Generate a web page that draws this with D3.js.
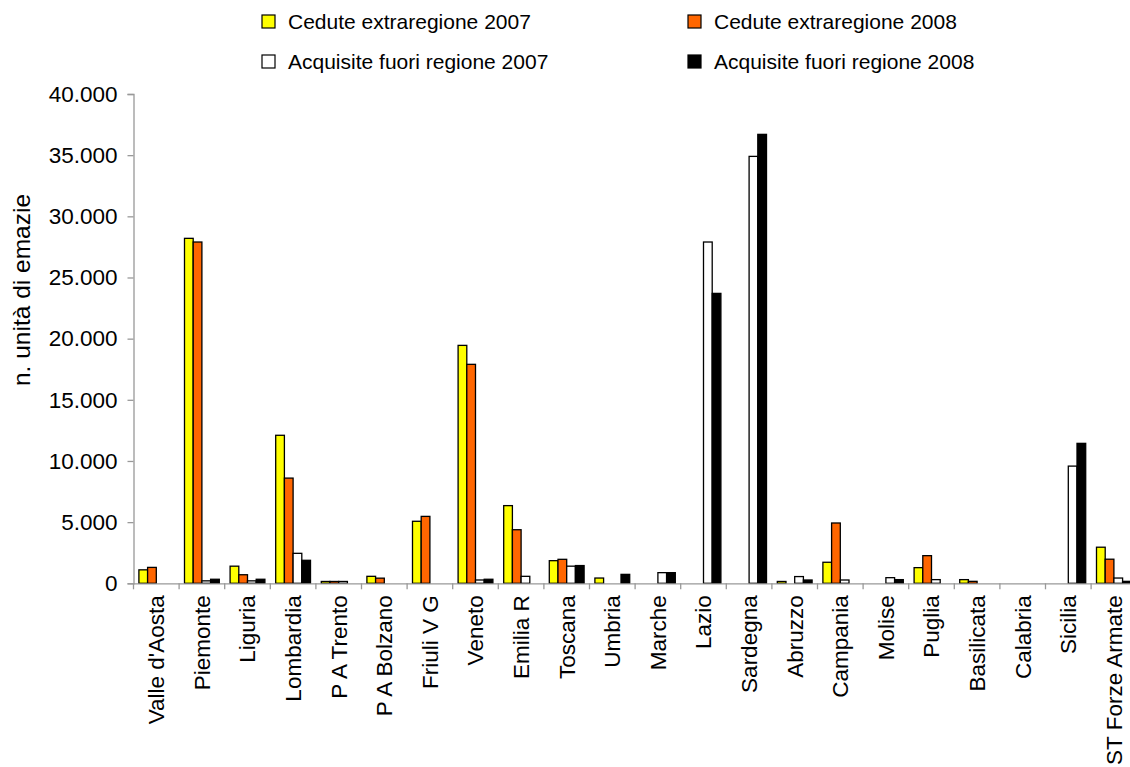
<!DOCTYPE html>
<html>
<head>
<meta charset="utf-8">
<script src="https://cdn.jsdelivr.net/npm/d3@7/dist/d3.min.js"></script>
<style>
  html, body { margin: 0; padding: 0; background: #fff; }
  svg { display: block; font-family: "Liberation Sans", Arial, sans-serif; }
</style>
</head>
<body>
<svg id="chart" width="1130" height="767"></svg>
<script>
const categories = ["Valle d'Aosta","Piemonte","Liguria","Lombardia","P A Trento","P A Bolzano","Friuli V G","Veneto","Emilia R","Toscana","Umbria","Marche","Lazio","Sardegna","Abruzzo","Campania","Molise","Puglia","Basilicata","Calabria","Sicilia","ST Forze Armate"];
const seriesNames = ["Cedute extraregione 2007","Cedute extraregione 2008","Acquisite fuori regione 2007","Acquisite fuori regione 2008"];
const cedute2007    = [1100, 28200, 1400, 12100, 150, 570, 5070, 19450, 6350, 1850, 430, 0, 0, 0, 150, 1720, 0, 1280, 300, 0, 0, 2950];
const cedute2008    = [1300, 27900, 700, 8600, 150, 420, 5470, 17900, 4380, 1960, 0, 0, 0, 0, 0, 4930, 0, 2260, 160, 0, 0, 1970];
const acquisite2007 = [0, 200, 200, 2450, 150, 0, 0, 270, 570, 1400, 0, 870, 27900, 34900, 550, 270, 460, 300, 0, 0, 9580, 430];
const acquisite2008 = [0, 330, 330, 1880, 0, 0, 0, 330, 0, 1450, 730, 870, 23700, 36700, 270, 0, 300, 0, 0, 0, 11440, 160];
const yTicks = [0, 5000, 10000, 15000, 20000, 25000, 30000, 35000, 40000];
const yTickLabels = ["0","5.000","10.000","15.000","20.000","25.000","30.000","35.000","40.000"];
const colors = ["#FFFF00", "#FF6600", "#FFFFFF", "#000000"];

const seriesValues = [cedute2007, cedute2008, acquisite2007, acquisite2008];

(function () {
const svg = d3.select("#chart");
const mLeft = 133.5, mTop = 94, mBottom = 583.3;
const step = 45.6;
const mRight = mLeft + step * categories.length;
const FONT = "Liberation Sans, Arial, sans-serif";

const x0 = d3.scaleBand().domain(categories).range([mLeft, mRight]).paddingInner(0).paddingOuter(0);
const x1 = d3.scaleBand().domain(d3.range(4)).range([0, x0.bandwidth()]).paddingInner(0).paddingOuter(0.62);
const y = d3.scaleLinear().domain([0, 40000]).range([mBottom, mTop]);

// bars
categories.forEach((c, i) => {
  const g = svg.append("g").attr("transform", `translate(${x0(c)},0)`);
  seriesValues.forEach((vals, s) => {
    const v = vals[i];
    if (!v) return;
    g.append("rect")
      .attr("x", x1(s))
      .attr("y", y(v))
      .attr("width", x1.bandwidth())
      .attr("height", mBottom - y(v))
      .attr("fill", colors[s])
      .attr("stroke", "#000")
      .attr("stroke-width", 1.3);
  });
});

// y axis
const yAxis = d3.axisLeft(y).tickValues(yTicks).tickFormat((d, i) => yTickLabels[i]).tickSize(6).tickPadding(10);
const ya = svg.append("g").attr("transform", `translate(${mLeft},0)`).call(yAxis);
ya.select(".domain").attr("stroke", "#999").attr("stroke-width", 1.3);
ya.selectAll(".tick line").attr("stroke", "#999").attr("stroke-width", 1.3);
ya.selectAll(".tick text").attr("font-size", 22.5).attr("fill", "#000").attr("font-family", FONT);

// x axis
const xAxis = d3.axisBottom(x0).tickSize(0).tickSizeOuter(0);
const xa = svg.append("g").attr("transform", `translate(0,${mBottom})`).call(xAxis);
xa.select(".domain").attr("stroke", "#999").attr("stroke-width", 1.3);
xa.selectAll(".tick text")
  .attr("font-size", 22.5)
  .attr("fill", "#000")
  .attr("font-family", FONT)
  .attr("text-anchor", "end")
  .attr("transform", "rotate(-90)")
  .attr("x", -12)
  .attr("y", 0)
  .attr("dy", "0.35em");
// category separator ticks
const sepPositions = categories.map((c) => x0(c)).concat([mRight]);
svg.append("g").selectAll("line").data(sepPositions).join("line")
  .attr("x1", d => d).attr("x2", d => d)
  .attr("y1", mBottom).attr("y2", mBottom + 6)
  .attr("stroke", "#999").attr("stroke-width", 1.3);

// y title
svg.append("text")
  .attr("transform", `translate(30,290) rotate(-90)`)
  .attr("text-anchor", "middle")
  .attr("font-size", 24.5)
  .attr("font-family", FONT)
  .attr("fill", "#000")
  .text("n. unità di emazie");

// legend
const legendPos = [[262, 22], [688, 22], [262, 62], [688, 62]];
seriesNames.forEach((name, s) => {
  const [lx, ly] = legendPos[s];
  svg.append("rect")
    .attr("x", lx).attr("y", ly - 7).attr("width", 13).attr("height", 13)
    .attr("fill", colors[s]).attr("stroke", "#000").attr("stroke-width", 1.2);
  svg.append("text")
    .attr("x", lx + 26).attr("y", ly).attr("dy", "0.35em")
    .attr("font-size", 21).attr("font-family", FONT).attr("fill", "#000")
    .text(name);
});
})();
</script>
</body>
</html>
